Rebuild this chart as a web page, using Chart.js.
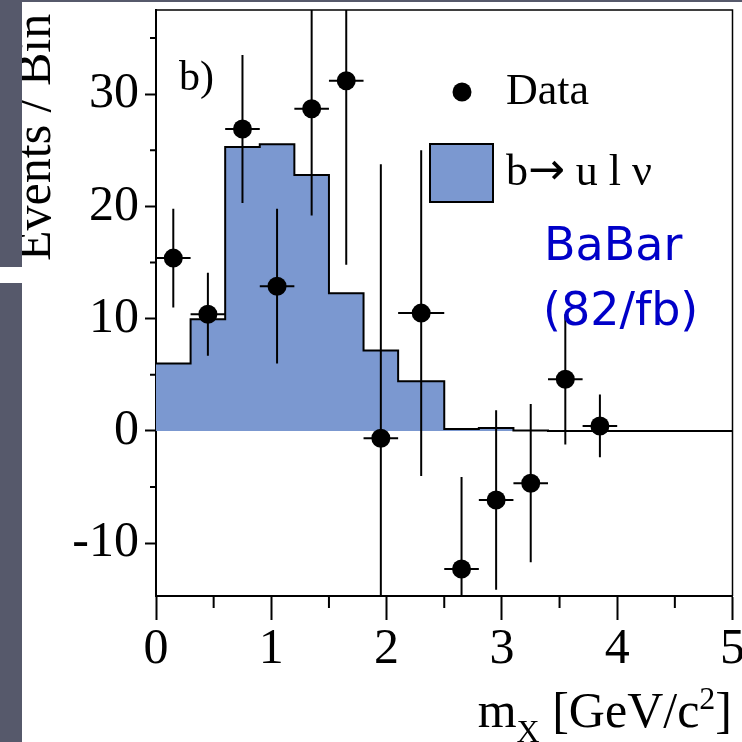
<!DOCTYPE html>
<html>
<head>
<meta charset="utf-8">
<script src="https://cdn.jsdelivr.net/npm/chart.js@4.4.1/dist/chart.umd.min.js"></script>
<style>
  html, body { margin: 0; padding: 0; background: #fff; }
  #wrap { width: 742px; height: 742px; }
</style>
</head>
<body>
<div id="wrap"><canvas id="mxChart" width="742" height="742"></canvas></div>
<script>
// bin edges in m_X (GeV/c^2)
const binEdges = [0, 0.3, 0.6, 0.9, 1.2, 1.5, 1.8, 2.1, 2.5, 2.8, 3.1, 3.4, 3.7, 4.0, 5.0];
// expected b -> u l nu contribution, one value per bin
const signalCounts = [6.0, 9.95, 25.3, 25.55, 22.8, 12.27, 7.16, 4.43, 0.18, 0.27, 0.04, 0, 0, 0];
// measured events per bin and their errors (first 13 bins)
const dataCounts = [15.4, 10.4, 26.9, 12.9, 28.7, 31.2, -0.65, 10.5, -12.3, -6.15, -4.65, 4.6, 0.45];
const dataErrors = [4.4, 3.7, 6.6, 6.9, 9.5, 16.4, 24.4, 14.5, 8.2, 8.0, 7.05, 5.8, 2.8];

const xTicks = [0, 1, 2, 3, 4, 5];
const xMinorTicks = [0.5, 1.5, 2.5, 3.5, 4.5];
const yTicks = [-10, 0, 10, 20, 30];
const yMinorTicks = [-5, 5, 15, 25, 35];

const SERIF = "'Liberation Serif', 'Times New Roman', serif";
const SANS = "'DejaVu Sans', Verdana, sans-serif";
const histFill = '#7b98d0';
const slate = '#56596b';

// step histogram: one point per left edge, plus the closing right edge
const histPoints = binEdges.map((e, i) => ({ x: e, y: signalCounts[Math.min(i, signalCounts.length - 1)] }));
const dataPoints = dataCounts.map((v, i) => ({ x: (binEdges[i] + binEdges[i + 1]) / 2, y: v }));

// error bars go under the data markers
const errorBars = {
    id: 'errorBars',
    beforeDatasetDraw(chart, args) {
        if (args.index !== 0) return;
        const { ctx, chartArea: a, scales: { x, y } } = chart;
        ctx.save();
        ctx.beginPath();
        ctx.rect(a.left, a.top, a.width, a.height);
        ctx.clip();
        ctx.strokeStyle = '#000';
        ctx.lineWidth = 2;
        dataCounts.forEach((v, i) => {
            const px = x.getPixelForValue(dataPoints[i].x);
            const py = y.getPixelForValue(v);
            ctx.beginPath();
            ctx.moveTo(px, y.getPixelForValue(v - dataErrors[i]));
            ctx.lineTo(px, y.getPixelForValue(v + dataErrors[i]));
            ctx.moveTo(x.getPixelForValue(binEdges[i]), py);
            ctx.lineTo(x.getPixelForValue(binEdges[i + 1]), py);
            ctx.stroke();
        });
        ctx.restore();
    }
};

// draws a run of text pieces, each with its own font and vertical shift
function drawRuns(ctx, parts, x0, base, alignRight) {
    let w = 0;
    parts.forEach(p => { ctx.font = p.f; p.w = ctx.measureText(p.t).width; w += p.w; });
    let cx = alignRight ? x0 - w : x0;
    parts.forEach(p => { ctx.font = p.f; ctx.fillText(p.t, cx, base + (p.dy || 0)); cx += p.w; });
}

const frameAndText = {
    id: 'frameAndText',
    afterDraw(chart) {
        const { ctx, chartArea: a, scales: { x, y } } = chart;
        const ds = chart.data.datasets;
        ctx.save();
        ctx.strokeStyle = '#000';
        ctx.fillStyle = '#000';

        // top and right sides of the frame
        ctx.lineWidth = 1.5;
        ctx.beginPath();
        ctx.moveTo(a.left, a.top);
        ctx.lineTo(a.right, a.top);
        ctx.lineTo(a.right, a.bottom);
        ctx.stroke();

        // minor ticks
        ctx.lineWidth = 2;
        ctx.beginPath();
        xMinorTicks.forEach(v => {
            const px = x.getPixelForValue(v);
            ctx.moveTo(px, a.bottom);
            ctx.lineTo(px, a.bottom + 12);
        });
        yMinorTicks.forEach(v => {
            const py = y.getPixelForValue(v);
            ctx.moveTo(a.left, py);
            ctx.lineTo(a.left - 6, py);
        });
        ctx.stroke();

        ctx.textAlign = 'left';
        ctx.textBaseline = 'alphabetic';

        // panel tag
        ctx.font = `42px ${SERIF}`;
        ctx.fillText('b)', 179, 90);

        // legend
        ctx.beginPath();
        ctx.arc(462, 92, 9.5, 0, Math.PI * 2);
        ctx.fill();
        ctx.font = `44px ${SERIF}`;
        ctx.fillText(ds[0].label, 506, 104);
        ctx.fillStyle = histFill;
        ctx.fillRect(430, 144, 63, 58);
        ctx.strokeRect(430, 144, 63, 58);
        ctx.fillStyle = '#000';
        const [pre, post] = ds[1].label.split('\u2192');
        drawRuns(ctx, [
            { t: pre, f: `44px ${SERIF}` },
            { t: '\u2192', f: `44px ${SANS}`, dy: -1 },
            { t: post, f: `44px ${SERIF}` }
        ], 506, 185, false);

        // experiment label
        ctx.fillStyle = '#0000c8';
        ctx.font = `46px ${SANS}`;
        ctx.fillText('BaBar', 544, 260);
        ctx.fillText('(82/fb)', 543, 325);

        // axis titles
        ctx.fillStyle = '#000';
        const big = `50px ${SERIF}`, small = `32px ${SERIF}`;
        drawRuns(ctx, [
            { t: 'm', f: big },
            { t: 'X', f: small, dy: 15 },
            { t: ' [GeV/c', f: big },
            { t: '2', f: small, dy: -18 },
            { t: ']', f: big }
        ], 732, 727, true);
        ctx.save();
        ctx.translate(49.5, 261);
        ctx.rotate(-Math.PI / 2);
        ctx.font = `50px ${SERIF}`;
        ctx.fillText('Events / Bin', 0, 0);
        ctx.restore();

        // slide border strips
        ctx.fillStyle = slate;
        ctx.fillRect(0, 0, 22, 267);
        ctx.fillRect(0, 283, 22, 742 - 283);
        ctx.fillRect(0, 0, 742, 2);
        ctx.restore();
    }
};

new Chart(document.getElementById('mxChart'), {
    type: 'line',
    data: {
        datasets: [
            {
                label: 'Data',
                type: 'scatter',
                data: dataPoints,
                showLine: false,
                pointRadius: 9.5,
                pointBackgroundColor: '#000',
                pointBorderWidth: 0
            },
            {
                label: 'b\u2192 u l \u03bd',
                data: histPoints,
                stepped: true,
                fill: 'origin',
                backgroundColor: histFill,
                borderColor: '#000',
                borderWidth: 2,
                pointRadius: 0
            }
        ]
    },
    options: {
        responsive: false,
        animation: false,
        layout: { padding: { top: 10, right: 9, left: 0, bottom: 0 } },
        plugins: { legend: { display: false }, tooltip: { enabled: false } },
        scales: {
            x: {
                type: 'linear',
                min: 0,
                max: 5,
                afterBuildTicks: s => { s.ticks = xTicks.map(v => ({ value: v })); },
                afterFit: s => { s.height = 146; s.paddingLeft = 0; s.paddingRight = 0; },
                grid: { drawOnChartArea: false, tickLength: 24, tickColor: '#000', tickWidth: 2 },
                border: { color: '#000', width: 2 },
                ticks: { color: '#000', font: { family: SERIF, size: 50 }, padding: 0, maxRotation: 0, autoSkip: false }
            },
            y: {
                type: 'linear',
                min: -14.7,
                max: 37.5,
                afterBuildTicks: s => { s.ticks = yTicks.map(v => ({ value: v })); },
                afterFit: s => { s.width = 156; s.paddingTop = 0; s.paddingBottom = 0; },
                grid: { drawOnChartArea: false, tickLength: 11, tickColor: '#000', tickWidth: 2 },
                border: { color: '#000', width: 2 },
                ticks: { color: '#000', font: { family: SERIF, size: 50 }, padding: 6, autoSkip: false }
            }
        }
    },
    plugins: [errorBars, frameAndText]
});
</script>
</body>
</html>
